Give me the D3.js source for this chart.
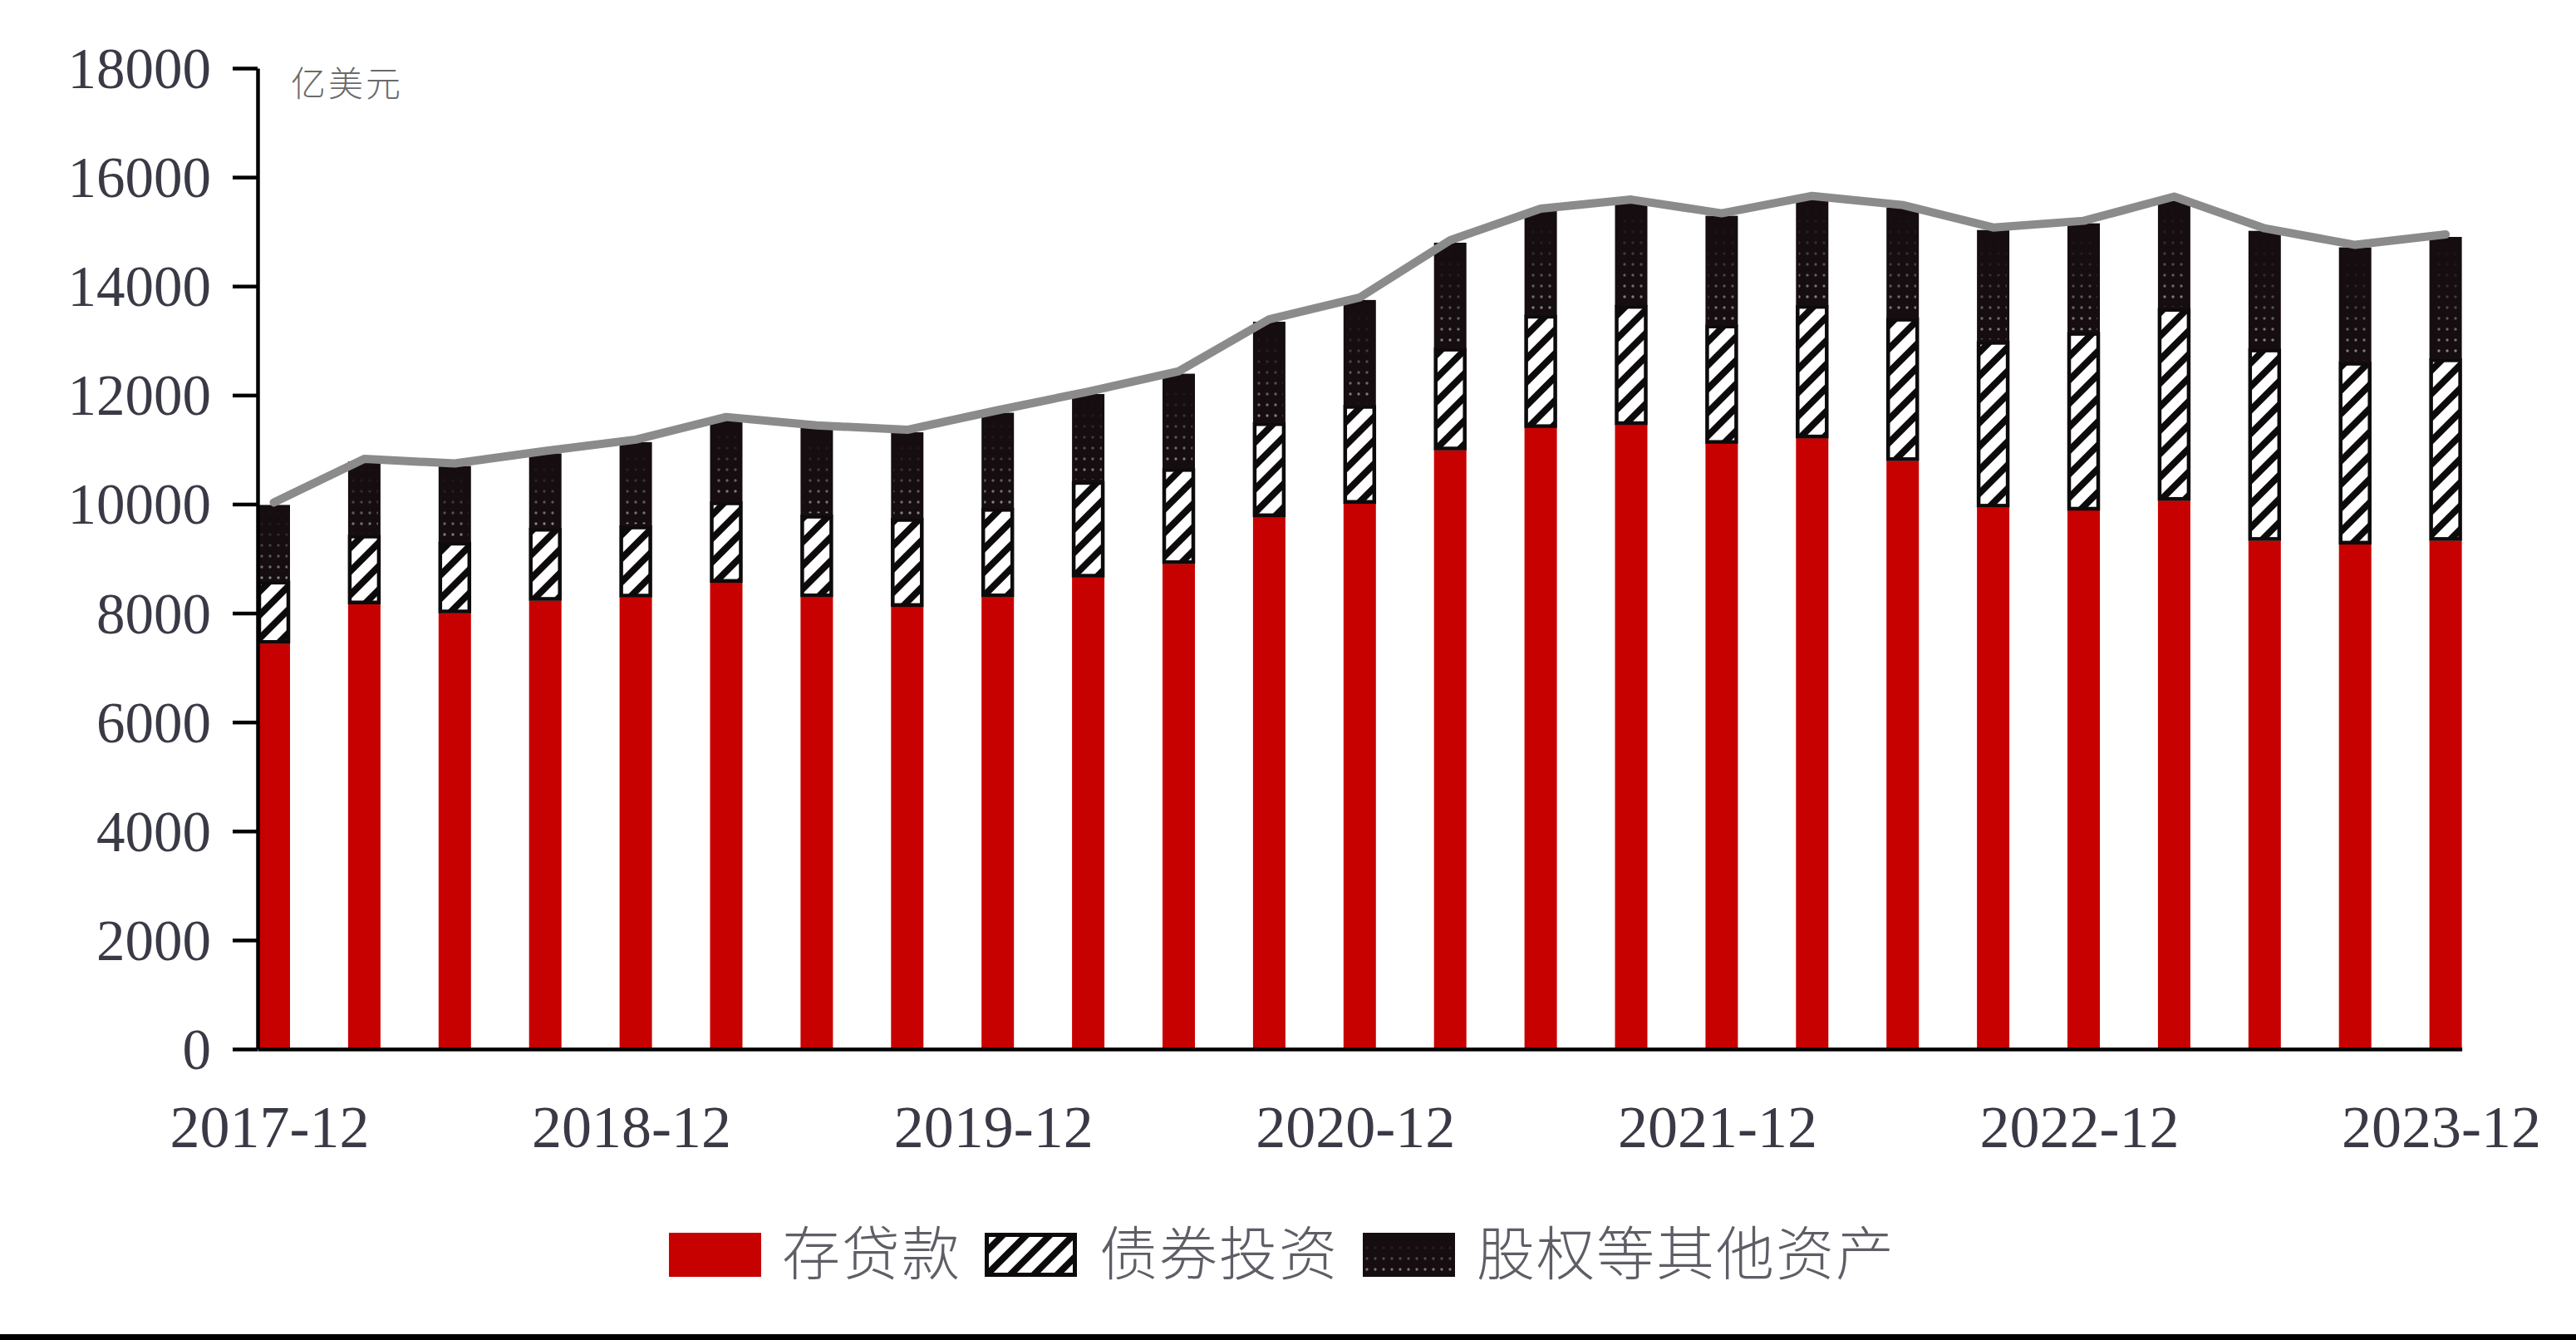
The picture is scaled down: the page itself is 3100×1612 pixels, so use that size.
<!DOCTYPE html>
<html>
<head>
<meta charset="utf-8">
<script src="https://cdn.jsdelivr.net/npm/d3@7"></script>
<style>
  html, body { margin: 0; padding: 0; background: #fff; }
  svg { display: block; }
</style>
</head>
<body>
<script>
// ---------------- data ----------------
const categories = [
  "2017-12","2018-03","2018-06","2018-09","2018-12","2019-03","2019-06","2019-09",
  "2019-12","2020-03","2020-06","2020-09","2020-12","2021-03","2021-06","2021-09",
  "2021-12","2022-03","2022-06","2022-09","2022-12","2023-03","2023-06","2023-09","2023-12"
];
const tickLabels = ["2017-12","2018-12","2019-12","2020-12","2021-12","2022-12","2023-12"];
const yTicks = [0,2000,4000,6000,8000,10000,12000,14000,16000,18000];
const seriesNames = ["存贷款","债券投资","股权等其他资产"];
const unitLabel = "亿美元";

// 存贷款
const deposits = [7440,8165,8000,8230,8290,8560,8295,8118,8295,8655,8904,9765,10010,
                  10990,11400,11455,11110,11210,10795,9940,9885,10065,9330,9262,9330];
// 债券投资
const bonds = [1150,1270,1305,1330,1312,1485,1505,1622,1630,1765,1753,1733,1805,
               1875,2070,2195,2180,2440,2620,3050,3270,3530,3520,3345,3340];
// 股权等其他资产
const equity = [1395,1350,1395,1370,1536,1508,1600,1578,1752,1600,1736,1849,1931,
                1932,1907,1893,2001,1960,2028,2040,1998,2002,2165,2105,2233];

// ---------------- layout ----------------
const W = 3100, H = 1612;
const svg = d3.select("body").append("svg").attr("width", W).attr("height", H);

const rows = categories.map((c, i) => ({cat: c, dep: deposits[i], bond: bonds[i], eq: equity[i]}));
const stack = d3.stack().keys(["dep","bond","eq"]);
const layers = stack(rows);

const x = d3.scaleBand().domain(categories).range([310, 2962.6]).paddingInner(0.642).paddingOuter(0).align(0);
const y = d3.scaleLinear().domain([0, 18000]).range([1262, 82]);

// ---------------- defs ----------------
const defs = svg.append("defs");
const hatch = defs.append("pattern").attr("id","hatch").attr("patternUnits","userSpaceOnUse")
  .attr("width",20).attr("height",20).attr("patternTransform","rotate(45)");
hatch.append("rect").attr("width",20).attr("height",20).attr("fill","#fff");
hatch.append("rect").attr("x",0).attr("y",0).attr("width",8).attr("height",20).attr("fill","#0d0a0b");

const dots = defs.append("pattern").attr("id","dots").attr("patternUnits","userSpaceOnUse")
  .attr("width",10).attr("height",13);
dots.append("circle").attr("cx",5).attr("cy",6).attr("r",1.7).attr("fill","#8a8a8a");

const grad = defs.append("linearGradient").attr("id","fade").attr("x1",0).attr("y1",1).attr("x2",0).attr("y2",0);
grad.append("stop").attr("offset","0").attr("stop-color","#fff").attr("stop-opacity",1);
grad.append("stop").attr("offset","0.7").attr("stop-color","#fff").attr("stop-opacity",0.15);
grad.append("stop").attr("offset","1").attr("stop-color","#fff").attr("stop-opacity",0);
const mask = defs.append("mask").attr("id","fademask").attr("maskContentUnits","objectBoundingBox");
mask.append("rect").attr("x",0).attr("y",0).attr("width",1).attr("height",1).attr("fill","url(#fade)");

const RED = "#c70000", BLACK = "#150d0f", LINE = "#8b8b8b";

// ---------------- bars ----------------
const g = svg.append("g");
const bw = x.bandwidth();

// deposits
g.selectAll("rect.dep").data(layers[0]).join("rect").attr("class","dep")
  .attr("x", d => x(d.data.cat)).attr("width", bw)
  .attr("y", d => y(d[1])).attr("height", d => y(d[0]) - y(d[1]))
  .attr("fill", RED);

// bonds (hatched with black border)
g.selectAll("rect.bond").data(layers[1]).join("rect").attr("class","bond")
  .attr("x", d => x(d.data.cat) + 2).attr("width", bw - 4)
  .attr("y", d => y(d[1]) + 2).attr("height", d => y(d[0]) - y(d[1]) - 4)
  .attr("fill", "url(#hatch)").attr("stroke", "#0d0a0b").attr("stroke-width", 4.5);

// equity (black with fading dots)
g.selectAll("rect.eq").data(layers[2]).join("rect").attr("class","eq")
  .attr("x", d => x(d.data.cat)).attr("width", bw)
  .attr("y", d => y(d[1])).attr("height", d => y(d[0]) - y(d[1]) + 1)
  .attr("fill", BLACK);
g.selectAll("rect.eqdots").data(layers[2]).join("rect").attr("class","eqdots")
  .attr("x", d => x(d.data.cat) + 3).attr("width", bw - 6)
  .attr("y", d => y(d[1]) + 4).attr("height", d => y(d[0]) - y(d[1]) - 6)
  .attr("fill", "url(#dots)").attr("mask","url(#fademask)");

// ---------------- total line ----------------
const line = d3.line().x(d => x(d.data.cat) + bw / 2).y(d => y(d[1]) - 3);
svg.append("path").datum(layers[2]).attr("d", line)
  .attr("fill","none").attr("stroke", LINE).attr("stroke-width", 10)
  .attr("stroke-linejoin","round").attr("stroke-linecap","round");

// ---------------- axes ----------------
const serif = "'Liberation Serif', 'DejaVu Serif', serif";
const yAxis = svg.append("g").attr("transform","translate(310,0)")
  .call(d3.axisLeft(y).tickValues(yTicks).tickSize(30).tickSizeOuter(0).tickPadding(26).tickFormat(d3.format("d")));
yAxis.select(".domain").attr("stroke","#000").attr("stroke-width",4.5);
yAxis.selectAll(".tick line").attr("stroke","#000").attr("stroke-width",4.5);
yAxis.selectAll(".tick text").attr("font-family", serif).attr("font-size", 69)
  .attr("fill","#3a3a46").attr("dy","0.34em");

const xAxis = svg.append("g").attr("transform","translate(0,1262)")
  .call(d3.axisBottom(x).tickValues(tickLabels).tickSize(0).tickSizeOuter(0).tickPadding(0));
xAxis.select(".domain").attr("stroke","#000").attr("stroke-width",4.5);
xAxis.selectAll(".tick text").attr("font-family", serif).attr("font-size", 72)
  .attr("fill","#3a3a46").attr("y", 118).attr("dy", "0").attr("dx", -5);

// unit label
svg.append("text").attr("x", 350).attr("y", 116).text(unitLabel)
  .attr("font-family","'Noto Sans CJK SC', sans-serif").attr("font-weight",300)
  .attr("font-size", 42).attr("letter-spacing", 3).attr("fill","#6a6a6a");

// ---------------- legend ----------------
const legendItems = [
  {name: seriesNames[0], rx: 805, tx: 941, fill: RED},
  {name: seriesNames[1], rx: 1185, tx: 1323, fill: "url(#hatch)"},
  {name: seriesNames[2], rx: 1640, tx: 1777, fill: BLACK}
];
const lg = svg.append("g");
legendItems.forEach((it, i) => {
  if (i === 1) {
    lg.append("rect").attr("x", it.rx + 2.5).attr("y", 1483 + 2.5).attr("width", 106).attr("height", 48)
      .attr("fill", it.fill).attr("stroke","#0d0a0b").attr("stroke-width",5);
  } else {
    lg.append("rect").attr("x", it.rx).attr("y", 1483).attr("width", 111).attr("height", 53).attr("fill", it.fill);
    if (i === 2) {
      lg.append("rect").attr("x", it.rx + 3).attr("y", 1487).attr("width", 105).attr("height", 46)
        .attr("fill","url(#dots)").attr("mask","url(#fademask)");
    }
  }
  lg.append("text").attr("x", it.tx).attr("y", 1534).text(it.name)
    .attr("font-family","'Noto Sans CJK SC', sans-serif").attr("font-weight",300)
    .attr("font-size", 70).attr("letter-spacing", 2).attr("fill","#5e5e66");
});

// bottom border
svg.append("rect").attr("x",0).attr("y",1605).attr("width",W).attr("height",7).attr("fill","#000");
</script>
</body>
</html>
